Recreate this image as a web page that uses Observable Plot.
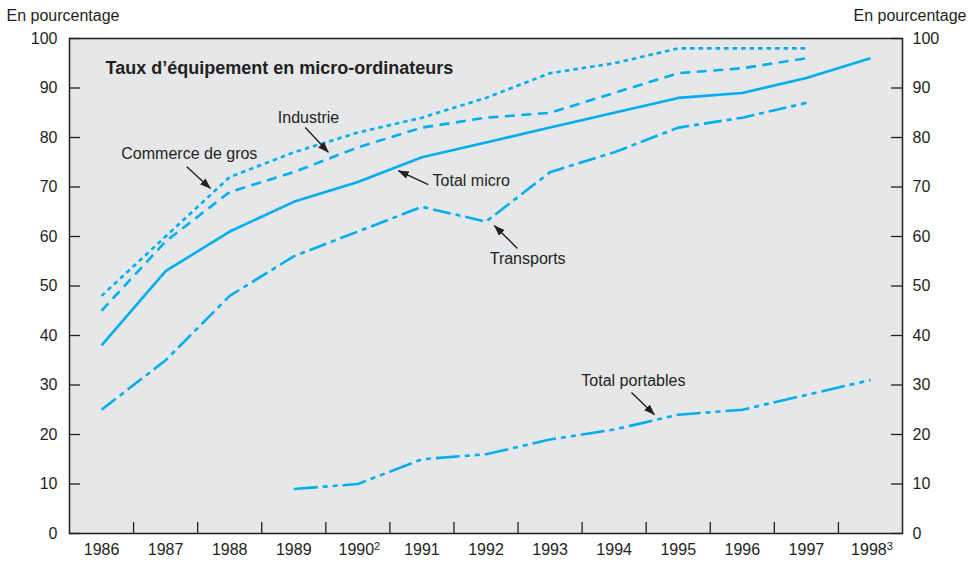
<!DOCTYPE html>
<html>
<head>
<meta charset="utf-8">
<script src="https://cdn.jsdelivr.net/npm/d3@7"></script>
<script src="https://cdn.jsdelivr.net/npm/@observablehq/plot@0.6"></script>
<style>
  html, body { margin: 0; padding: 0; background: #ffffff; }
  #chart { width: 971px; height: 563px; }
</style>
</head>
<body>
<div id="chart"></div>
<script>
// ---- Data ----
const years = [1986, 1987, 1988, 1989, 1990, 1991, 1992, 1993, 1994, 1995, 1996, 1997, 1998];
const yearLabels = ["1986", "1987", "1988", "1989", "1990", "1991", "1992", "1993", "1994", "1995", "1996", "1997", "1998"];
const yearNotes = ["", "", "", "", "2", "", "", "", "", "", "", "", "3"];
const commerceYears = [1986, 1987, 1988, 1989, 1990, 1991, 1992, 1993, 1994, 1995, 1996, 1997];
const commerceDeGros = [48, 60, 72, 77, 81, 84, 88, 93, 95, 98, 98, 98];
const industrieYears = [1986, 1987, 1988, 1989, 1990, 1991, 1992, 1993, 1994, 1995, 1996, 1997];
const industrie = [45, 59, 69, 73, 78, 82, 84, 85, 89, 93, 94, 96];
const totalMicroYears = [1986, 1987, 1988, 1989, 1990, 1991, 1992, 1993, 1994, 1995, 1996, 1997, 1998];
const totalMicro = [38, 53, 61, 67, 71, 76, 79, 82, 85, 88, 89, 92, 96];
const transportsYears = [1986, 1987, 1988, 1989, 1990, 1991, 1992, 1993, 1994, 1995, 1996, 1997];
const transports = [25, 35, 48, 56, 61, 66, 63, 73, 77, 82, 84, 87];
const portablesYears = [1989, 1990, 1991, 1992, 1993, 1994, 1995, 1996, 1997, 1998];
const totalPortables = [9, 10, 15, 16, 19, 21, 24, 25, 28, 31];
const yTicks = [0, 10, 20, 30, 40, 50, 60, 70, 80, 90, 100];
const yearBoundaries = [1986.5, 1987.5, 1988.5, 1989.5, 1990.5, 1991.5, 1992.5, 1993.5, 1994.5, 1995.5, 1996.5, 1997.5];

// annotation labels (data coordinates, text centre)
const labelText = ["Industrie", "Commerce de gros", "Total micro", "Transports", "Total portables"];
const labelYear = [1989.23, 1987.37, 1991.77, 1992.65, 1994.30];
const labelValue = [84.0, 76.6, 71.3, 55.4, 30.9];
// annotation arrows (data coordinates)
const arrowYear1 = [1989.18, 1987.33, 1991.10, 1992.49, 1994.27];
const arrowValue1 = [82.0, 74.1, 70.5, 57.6, 28.5];
const arrowYear2 = [1989.54, 1987.70, 1990.63, 1992.13, 1994.63];
const arrowValue2 = [77.0, 69.7, 73.3, 62.2, 24.0];

const title = "Taux d’équipement en micro-ordinateurs";
const unitLabel = "En pourcentage";

// ---- Tables built from arrays ----
const series = (xs, vs) => xs.map((x, i) => ({year: x, value: vs[i]}));
const labels = labelText.map((t, i) => ({text: t, year: labelYear[i], value: labelValue[i]}));
const arrows = arrowYear1.map((x, i) => ({x1: x, y1: arrowValue1[i], x2: arrowYear2[i], y2: arrowValue2[i]}));

const W = 971, H = 563, mL = 69, mR = 69, mT = 38, mB = 30;
const plotW = W - mL - mR, plotH = H - mT - mB;
const tickLen = 11;
const blue = "#00aeef";
const ink = "#231f20";
const font = "Liberation Sans, Arial, Helvetica, sans-serif";
const lineOpts = {x: "year", y: "value", stroke: blue, strokeWidth: 2.6, strokeLinecap: "butt", strokeLinejoin: "miter"};

const svg = Plot.plot({
  width: W,
  height: H,
  marginLeft: mL,
  marginRight: mR,
  marginTop: mT,
  marginBottom: mB,
  style: {fontFamily: font, color: ink, background: "transparent", overflow: "visible"},
  x: {type: "linear", domain: [1985.5, 1998.5]},
  y: {domain: [0, 100]},
  marks: [
    Plot.frame({fill: "#e6e7e8", stroke: null}),
    // inside ticks
    Plot.tickY(yTicks, {y: d => d, stroke: ink, strokeWidth: 1.3, insetRight: plotW - tickLen}),
    Plot.tickY(yTicks, {y: d => d, stroke: ink, strokeWidth: 1.3, insetLeft: plotW - tickLen}),
    Plot.tickX(yearBoundaries, {x: d => d, stroke: ink, strokeWidth: 1.3, insetTop: plotH - tickLen}),
    // axes labels
    Plot.axisY(yTicks, {anchor: "left", tickSize: 0, tickPadding: 12, fontSize: 16, label: null, fill: ink}),
    Plot.axisY(yTicks, {anchor: "right", tickSize: 0, tickPadding: 10, fontSize: 16, label: null, fill: ink}),
    Plot.axisX(years, {anchor: "bottom", tickSize: 0, tickPadding: 10, fontSize: 16, label: null, fill: ink,
      tickFormat: d => yearLabels[years.indexOf(d)]}),
    // series
    Plot.line(series(commerceYears, commerceDeGros), {...lineOpts, strokeDasharray: "4.5,4"}),
    Plot.line(series(industrieYears, industrie), {...lineOpts, strokeDasharray: "10,6.5"}),
    Plot.line(series(totalMicroYears, totalMicro), {...lineOpts}),
    Plot.line(series(transportsYears, transports), {...lineOpts, strokeDasharray: "18,5,5,5"}),
    Plot.line(series(portablesYears, totalPortables), {...lineOpts, strokeDasharray: "24,5,5,5,5,5"}),
    // annotations
    Plot.link(arrows, {x1: "x1", y1: "y1", x2: "x2", y2: "y2", stroke: ink, strokeWidth: 1.4}),
    Plot.text(labels, {x: "year", y: "value", text: "text", textAnchor: "middle", lineAnchor: "middle", fontSize: 16, fill: ink}),
    Plot.text([title], {frameAnchor: "top-left", dx: 36, dy: 30, textAnchor: "start", lineAnchor: "middle", fontSize: 18, fontWeight: "bold", fill: ink}),
    Plot.text([unitLabel], {frameAnchor: "top-left", dx: -63, dy: -23, textAnchor: "start", lineAnchor: "middle", fontSize: 16, fill: ink}),
    Plot.text([unitLabel], {frameAnchor: "top-right", dx: 64, dy: -23, textAnchor: "end", lineAnchor: "middle", fontSize: 16, fill: ink}),
    Plot.frame({stroke: ink, strokeWidth: 1.5})
  ]
});

const sel = d3.select(svg);

// superscript footnote marks on the year labels
sel.selectAll('g[aria-label="x-axis tick label"] text').each(function () {
  const t = d3.select(this);
  const i = yearLabels.indexOf(t.text());
  if (i >= 0 && yearNotes[i]) {
    const shift = 1.5;
    t.attr("dx", shift);
    t.append("tspan").attr("dy", "-0.45em").attr("font-size", 11).text(yearNotes[i]);
  }
});

// filled arrowheads for the annotation links
const defs = sel.insert("defs", ":first-child");
defs.append("marker")
  .attr("id", "ahead")
  .attr("viewBox", "0 0 11 8")
  .attr("refX", 10.5)
  .attr("refY", 4)
  .attr("markerWidth", 11)
  .attr("markerHeight", 8)
  .attr("markerUnits", "userSpaceOnUse")
  .attr("orient", "auto")
  .append("path")
  .attr("d", "M0,0L11,4L0,8Z")
  .attr("fill", ink);
sel.selectAll('g[aria-label="link"] path').attr("marker-end", "url(#ahead)");

document.getElementById("chart").appendChild(svg);
</script>
</body>
</html>
